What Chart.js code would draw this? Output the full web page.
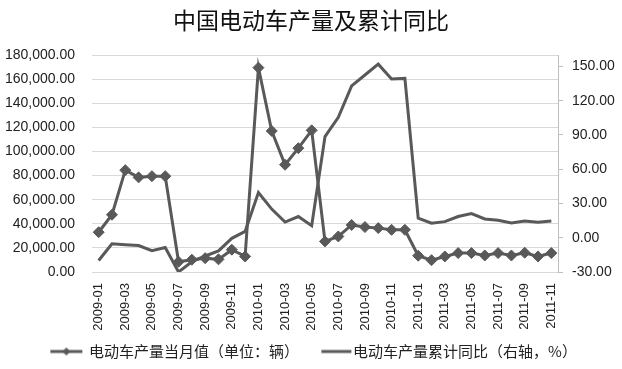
<!DOCTYPE html>
<html>
<head>
<meta charset="utf-8">
<script src="https://cdn.jsdelivr.net/npm/chart.js@4"></script>
<style>
  html, body { margin: 0; padding: 0; background: #fff; }
  #wrap { width: 622px; height: 369px; }
</style>
</head>
<body>
<div id="wrap"><canvas id="myChart" width="622" height="369"></canvas></div>
<script>
// months 2009-01 .. 2011-11
const months = [
  '2009-01','2009-02','2009-03','2009-04','2009-05','2009-06','2009-07','2009-08','2009-09','2009-10','2009-11','2009-12',
  '2010-01','2010-02','2010-03','2010-04','2010-05','2010-06','2010-07','2010-08','2010-09','2010-10','2010-11','2010-12',
  '2011-01','2011-02','2011-03','2011-04','2011-05','2011-06','2011-07','2011-08','2011-09','2011-10','2011-11'
];
// 电动车产量当月值 (辆)
const monthly = [
  33000, 47500, 84500, 78500, 79500, 79500, 8500, 10200, 11500, 10500, 18500, 12900,
  169500, 117000, 89000, 102700, 117500, 25400, 29500, 39000, 37300, 36400, 35000, 35000,
  13500, 9800, 12900, 15700, 15700, 13700, 15700, 13700, 16000, 12900, 15700
];
// 电动车产量累计同比 (%)
const cumYoY = [
  -19.9, -5.3, -6.1, -6.8, -11.4, -8.5, -30.0, -21.0, -16.0, -11.5, -0.5, 5.5,
  39.6, 25.1, 13.7, 18.6, 10.5, 88.6, 105.5, 132.9, 142.5, 152.0, 139.0, 139.5,
  17.2, 12.8, 14.1, 18.6, 21.1, 16.4, 15.3, 12.9, 14.7, 13.5, 14.7
];
const rightTicks = [-30, 0, 30, 60, 90, 120, 150];
const seriesNames = ['电动车产量当月值（单位：辆）', '电动车产量累计同比（右轴，%）'];

const grey = '#595959';

// legend markers: a 50px wide image, line drawn from x0 to x1
function legendMark(x0, x1, diamondAt) {
  const c = document.createElement('canvas');
  c.width = 50; c.height = 10;
  const g = c.getContext('2d');
  g.strokeStyle = grey;
  g.lineWidth = 3;
  g.beginPath(); g.moveTo(x0, 5); g.lineTo(x1, 5); g.stroke();
  if (diamondAt) {
    g.fillStyle = grey;
    g.beginPath();
    g.moveTo(diamondAt, 1); g.lineTo(diamondAt + 4, 5); g.lineTo(diamondAt, 9); g.lineTo(diamondAt - 4, 5);
    g.closePath(); g.fill();
  }
  return c;
}
const marks = [legendMark(12, 44, 28), legendMark(19, 49, 0)];

const ctx = document.getElementById('myChart').getContext('2d');
const chart = new Chart(ctx, {
  type: 'line',
  data: {
    labels: months,
    datasets: [
      {
        label: seriesNames[0],
        data: monthly,
        yAxisID: 'y',
        borderColor: grey,
        backgroundColor: grey,
        borderWidth: 3,
        pointStyle: 'rectRot',
        pointRadius: 5.5,
        pointBorderWidth: 1,
        pointBackgroundColor: grey,
        pointBorderColor: grey,
        tension: 0
      },
      {
        label: seriesNames[1],
        data: cumYoY,
        yAxisID: 'y2',
        borderColor: grey,
        backgroundColor: grey,
        borderWidth: 3,
        pointRadius: 0,
        tension: 0
      }
    ]
  },
  options: {
    responsive: false,
    animation: false,
    devicePixelRatio: 1,
    layout: { padding: 0 },
    plugins: {
      tooltip: { enabled: false },
      title: {
        display: true,
        text: '中国电动车产量及累计同比',
        color: '#111',
        font: { family: '"Noto Sans CJK SC"', size: 23, weight: 'normal' },
        padding: { top: 6.7, bottom: 20.7 }
      },
      legend: {
        display: true,
        position: 'bottom',
        labels: {
          usePointStyle: true,
          pointStyleWidth: 36.5,
          padding: 10,
          color: '#222',
          font: { family: '"Noto Sans CJK SC"', size: 15 },
          generateLabels: function (ch) {
            const items = Chart.defaults.plugins.legend.labels.generateLabels(ch);
            items.forEach((it, i) => { it.pointStyle = marks[i]; });
            return items;
          }
        }
      }
    },
    scales: {
      x: {
        type: 'category',
        offset: true,
        grid: { display: false, drawTicks: false },
        border: { display: false },
        ticks: {
          autoSkip: false,
          maxRotation: 90,
          minRotation: 90,
          padding: 11,
          color: '#222',
          font: { family: '"Liberation Sans"', size: 13 },
          callback: function (v, i) { return i % 2 === 0 ? months[i] : ''; }
        },
        afterFit: function (s) { s.height = 62; }
      },
      y: {
        position: 'left',
        min: 0,
        max: 180000,
        grid: { color: '#d9d9d9', drawTicks: false, lineWidth: 1 },
        border: { display: false },
        ticks: {
          stepSize: 20000,
          padding: 17,
          color: '#222',
          font: { family: '"Liberation Sans"', size: 14 },
          callback: v => v.toLocaleString('en-US', { minimumFractionDigits: 2, maximumFractionDigits: 2 })
        },
        afterFit: function (s) { s.width = 92; }
      },
      y2: {
        position: 'right',
        min: -30,
        max: 160,
        grid: { drawOnChartArea: false, drawTicks: true, tickLength: 5, color: '#bfbfbf' },
        border: { display: true, color: '#bfbfbf' },
        afterBuildTicks: function (s) { s.ticks = rightTicks.map(v => ({ value: v })); },
        ticks: {
          padding: 9,
          color: '#222',
          font: { family: '"Liberation Sans"', size: 14 },
          callback: v => v.toFixed(2)
        },
        afterFit: function (s) { s.width = 64; }
      }
    }
  }
});
</script>
</body>
</html>
